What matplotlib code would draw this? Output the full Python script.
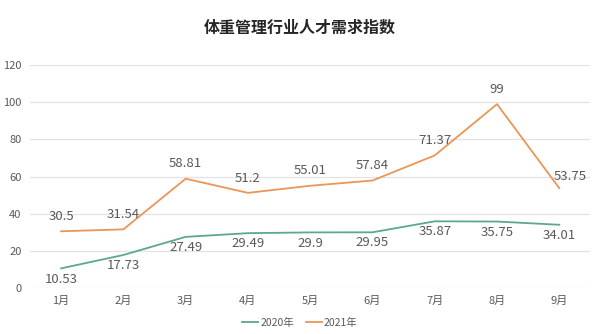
import matplotlib
matplotlib.use('Agg')
from matplotlib import pyplot as plt

plt.rcParams['font.family'] = ['Noto Sans CJK SC', 'DejaVu Sans']

months = ['1月', '2月', '3月', '4月', '5月', '6月', '7月', '8月', '9月']
idx_2020 = [10.53, 17.73, 27.49, 29.49, 29.9, 29.95, 35.87, 35.75, 34.01]
idx_2021 = [30.5, 31.54, 58.81, 51.2, 55.01, 57.84, 71.37, 99, 53.75]

green = '#5ba88c'
orange = '#eb9556'
grey = '#595959'

fig = plt.figure(figsize=(6, 3.34), dpi=100)
ax = fig.add_axes([0.05, 0.138, 0.934, 0.667])

x = range(1, len(months) + 1)
ax.plot(x, idx_2020, color=green, lw=1.3, label='2020年')
ax.plot(x, idx_2021, color=orange, lw=1.3, label='2021年')

# value labels: 2020 below the line, 2021 above (last one nudged right)
lbl = dict(fontsize=9.5, color=grey, fontweight='light', textcoords='offset points')
for i, v in zip(x, idx_2020):
    ax.annotate('{:g}'.format(v), (i, v), xytext=(0, -3), ha='center', va='top', **lbl)
for i, v in zip(x, idx_2021):
    if i == len(months):
        ax.annotate('{:g}'.format(v), (i, v), xytext=(-4, 4), ha='left', va='bottom', **lbl)
    else:
        ax.annotate('{:g}'.format(v), (i, v), xytext=(0, 6), ha='center', va='bottom', **lbl)

ax.set_xlim(0.5, len(months) + 0.5)
ax.set_ylim(0, 120)
ax.set_yticks(range(0, 121, 20))
ax.set_xticks(list(x))
ax.set_xticklabels(months)
ax.tick_params(length=0, labelsize=8, colors=grey, pad=6)
ax.grid(axis='y', color='#e3e3e3', lw=0.9)
ax.set_axisbelow(True)
for s in ax.spines.values():
    s.set_visible(False)

fig.suptitle('体重管理行业人才需求指数', x=0.5, y=0.94, fontsize=11.5,
             fontweight='bold', color='#262626')
fig.legend(loc='lower center', bbox_to_anchor=(0.5, -0.01), ncol=2, frameon=False,
           fontsize=7.5, handlelength=1.5, handletextpad=0.2, columnspacing=1.2,
           labelcolor=grey)

fig.savefig('out.png', dpi=100)
